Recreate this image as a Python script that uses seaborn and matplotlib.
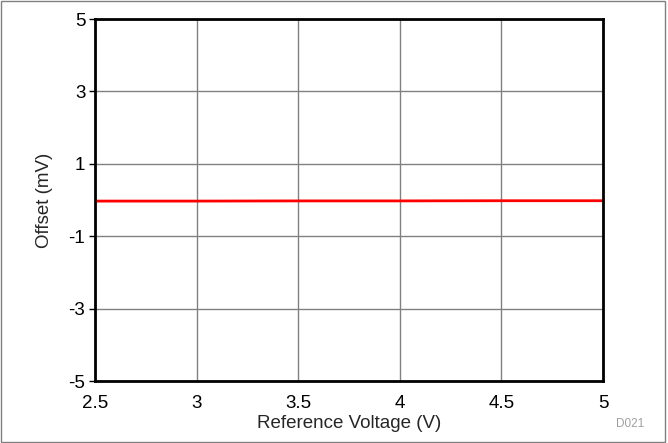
import matplotlib
matplotlib.use('Agg')
import matplotlib.pyplot as plt
import seaborn as sns
import pandas as pd

# data
ref_voltage = [2.5, 3.0, 3.5, 4.0, 4.5, 5.0]
offset_mv = [-0.03, -0.03, -0.025, -0.025, -0.02, -0.02]
x_ticks = [2.5, 3, 3.5, 4, 4.5, 5]
x_labels = ['2.5', '3', '3.5', '4', '4.5', '5']
y_ticks = [-5, -3, -1, 1, 3, 5]
y_labels = ['-5', '-3', '-1', '1', '3', '5']

df = pd.DataFrame({'v': ref_voltage, 'off': offset_mv})

sns.set_style('white')
plt.rcParams['font.family'] = ['Liberation Sans', 'DejaVu Sans']

fig = plt.figure(figsize=(6.68, 4.43), dpi=100)
ax = fig.add_axes([95/668, 1 - 381/443, (603-95)/668, (381-19)/443])

sns.lineplot(data=df, x='v', y='off', color='#ff0000', linewidth=2, ax=ax)

ax.set_xlim(2.5, 5)
ax.set_ylim(-5, 5)
ax.set_xticks(x_ticks)
ax.set_xticklabels(x_labels)
ax.set_yticks(y_ticks)
ax.set_yticklabels(y_labels)
ax.grid(True, color='#808080', linewidth=1)
ax.set_axisbelow(True)
for s in ax.spines.values():
    s.set_color('black')
    s.set_linewidth(2)
ax.tick_params(axis='both', labelsize=13.5, labelcolor='black', color='black', width=1)
ax.tick_params(axis='y', direction='out', length=4, pad=3, left=True)
ax.tick_params(axis='x', length=0, pad=10, bottom=True)
ax.set_xlabel('Reference Voltage (V)', fontsize=13.5, labelpad=2)
ax.set_ylabel('Offset (mV)', fontsize=13.5, labelpad=11)

fig.text(630/668, 1 - 424/443, 'D021', fontsize=8.5, color='#a0a0a0', ha='center', va='center')

# thin frame around the whole figure
border = plt.Rectangle((0.002, 0.002), 0.994, 0.995, transform=fig.transFigure,
                       fill=False, edgecolor='#808080', linewidth=1)
fig.patches.append(border)

fig.savefig('out.png', dpi=100)
